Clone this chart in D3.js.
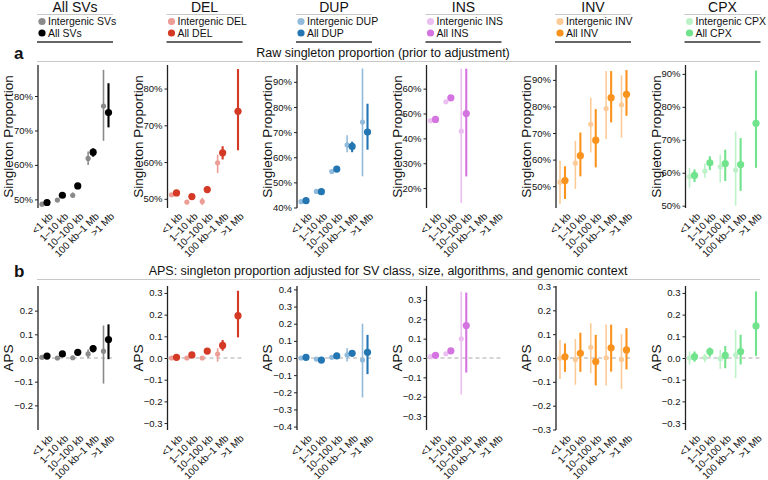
<!DOCTYPE html>
<html>
<head>
<meta charset="utf-8">
<script src="https://cdn.jsdelivr.net/npm/d3@7"></script>
<style>
  body { margin: 0; background: #fff; }
  svg text { font-family: "Liberation Sans", Arial, sans-serif; fill: #111; }
</style>
</head>
<body>
<div id="chart"></div>
<script>
const sizeBins = ["<1 kb", "1\u201310 kb", "10\u2013100 kb", "100 kb\u20131 Mb", ">1 Mb"];
const svClasses = ["All SVs", "DEL", "DUP", "INS", "INV", "CPX"];
const legendIntergenic = ["Intergenic SVs", "Intergenic DEL", "Intergenic DUP", "Intergenic INS", "Intergenic INV", "Intergenic CPX"];
const legendAll = ["All SVs", "All DEL", "All DUP", "All INS", "All INV", "All CPX"];
const colorsAll = ["#000000", "#D43925", "#2376B2", "#D474E0", "#FA931E", "#71E38C"];
const colorsIntergenic = ["#8a8a8a", "#EC9D96", "#92BBDB", "#EBC0F1", "#FCCB98", "#BDF2C8"];

// [estimate, lower, upper] per size bin, null = not shown
const rawIntergenic = [
  [[0.486, 0.483, 0.489], [0.498, 0.495, 0.501], [0.512, 0.504, 0.520], [0.619, 0.600, 0.639], [0.771, 0.670, 0.876]],
  [[0.511, 0.508, 0.514], [0.491, 0.486, 0.496], [0.493, 0.483, 0.503], [0.598, 0.570, 0.620], null],
  [[0.423, 0.420, 0.426], [0.464, 0.454, 0.474], [0.543, 0.535, 0.551], [0.649, 0.620, 0.687], [0.740, 0.524, 0.953]],
  [[0.471, 0.468, 0.474], [0.547, 0.540, 0.554], [0.429, 0.140, 0.680], null, null],
  [[0.515, 0.434, 0.596], [0.587, 0.490, 0.671], [0.733, 0.627, 0.833], [0.792, 0.677, 0.933], [0.806, 0.683, 0.917]],
  [[0.588, 0.555, 0.615], [0.605, 0.585, 0.628], [0.618, 0.570, 0.655], [0.608, 0.500, 0.725], null]
];
const rawAll = [
  [[0.491, 0.489, 0.493], [0.512, 0.509, 0.515], [0.539, 0.535, 0.543], [0.637, 0.624, 0.648], [0.752, 0.709, 0.837]],
  [[0.516, 0.513, 0.519], [0.506, 0.500, 0.512], [0.525, 0.516, 0.534], [0.625, 0.607, 0.643], [0.738, 0.632, 0.853]],
  [[0.427, 0.425, 0.429], [0.463, 0.457, 0.469], [0.553, 0.548, 0.558], [0.643, 0.620, 0.662], [0.700, 0.630, 0.813]],
  [[0.476, 0.473, 0.479], [0.563, 0.558, 0.568], [0.500, 0.247, 0.680], null, null],
  [[0.521, 0.452, 0.575], [0.615, 0.537, 0.702], [0.673, 0.571, 0.790], [0.833, 0.740, 0.933], [0.846, 0.765, 0.937]],
  [[0.592, 0.572, 0.610], [0.630, 0.608, 0.650], [0.628, 0.575, 0.670], [0.625, 0.545, 0.705], [0.750, 0.615, 0.910]]
];
const apsIntergenic = [
  [[0.003, 0.000, 0.006], [0.000, -0.003, 0.003], [0.001, -0.003, 0.005], [0.017, -0.001, 0.036], [0.029, -0.108, 0.137]],
  [[0.000, -0.003, 0.003], [0.000, -0.004, 0.004], [0.000, -0.005, 0.005], [0.018, -0.017, 0.045], null],
  [[0.000, -0.003, 0.003], [-0.006, -0.010, -0.002], [0.004, 0.000, 0.008], [0.018, -0.020, 0.057], [-0.012, -0.230, 0.200]],
  [[0.007, 0.004, 0.010], [0.022, 0.017, 0.027], [0.099, -0.189, 0.343], null, null],
  [[-0.001, -0.088, 0.075], [-0.006, -0.112, 0.080], [0.045, -0.064, 0.146], [0.001, -0.115, 0.140], [-0.006, -0.130, 0.100]],
  [[0.000, -0.030, 0.030], [0.002, -0.020, 0.020], [-0.003, -0.050, 0.037], [0.014, -0.093, 0.130], null]
];
const apsAll = [
  [[0.008, 0.005, 0.011], [0.017, 0.014, 0.020], [0.024, 0.020, 0.028], [0.040, 0.024, 0.054], [0.078, -0.005, 0.142]],
  [[0.003, 0.000, 0.006], [0.014, 0.010, 0.018], [0.032, 0.027, 0.037], [0.058, 0.034, 0.083], [0.195, 0.095, 0.310]],
  [[0.004, 0.001, 0.007], [-0.012, -0.017, -0.007], [0.012, 0.008, 0.016], [0.027, 0.008, 0.043], [0.033, -0.094, 0.135]],
  [[0.014, 0.010, 0.018], [0.037, 0.031, 0.043], [0.168, -0.075, 0.338], null, null],
  [[0.005, -0.058, 0.061], [0.020, -0.058, 0.106], [-0.015, -0.115, 0.097], [0.043, -0.057, 0.140], [0.034, -0.048, 0.125]],
  [[0.006, -0.017, 0.030], [0.030, 0.006, 0.048], [0.012, -0.047, 0.055], [0.030, -0.030, 0.107], [0.148, 0.010, 0.307]]
];

// axis limits and tick values
const rawLimits = [[0.475, 0.89], [0.475, 0.864], [0.398, 0.967], [0.12, 0.695], [0.418, 0.956], [0.493, 0.927]];
const rawTicks = [[0.5, 0.6, 0.7, 0.8], [0.5, 0.6, 0.7, 0.8], [0.4, 0.5, 0.6, 0.7, 0.8, 0.9],
                  [0.2, 0.3, 0.4, 0.5, 0.6], [0.5, 0.6, 0.7, 0.8, 0.9], [0.5, 0.6, 0.7, 0.8, 0.9]];
const apsLimits = [0.304, 0.332, 0.42, 0.372, 0.302, 0.332];
const apsTicks = [[-0.2, -0.1, 0, 0.1, 0.2], [-0.3, -0.2, -0.1, 0, 0.1, 0.2, 0.3], [-0.4, -0.3, -0.2, -0.1, 0, 0.1, 0.2, 0.3, 0.4],
                  [-0.3, -0.2, -0.1, 0, 0.1, 0.2, 0.3], [-0.3, -0.2, -0.1, 0, 0.1, 0.2, 0.3], [-0.3, -0.2, -0.1, 0, 0.1, 0.2, 0.3]];

const W = 768, H = 480;
const svg = d3.select("#chart").append("svg").attr("width", W).attr("height", H);

// horizontal position of each panel's y axis
const panelX = d3.scalePoint().domain(svClasses).range([38, 685.5]);

// header: class titles and legends
svClasses.forEach((cls, i) => {
    let x0 = panelX(cls);
    let g = svg.append("g").attr("transform", `translate(${x0},0)`);
    g.append("text").attr("x", 37).attr("y", 12).attr("text-anchor", "middle")
        .style("font-size", "14px").text(cls);
    g.append("line").attr("x1", -1).attr("x2", 75).attr("y1", 14.5).attr("y2", 14.5)
        .attr("stroke", "#c8c8c8").attr("stroke-width", 1);
    g.append("circle").attr("cx", 4).attr("cy", 21.5).attr("r", 3.6).attr("fill", colorsIntergenic[i]);
    g.append("text").attr("x", 10).attr("y", 25.3).style("font-size", "10.5px").text(legendIntergenic[i]);
    g.append("circle").attr("cx", 4).attr("cy", 33).attr("r", 3.6).attr("fill", colorsAll[i]);
    g.append("text").attr("x", 10).attr("y", 36.8).style("font-size", "10.5px").text(legendAll[i]);
    g.append("line").attr("x1", -1).attr("x2", 75).attr("y1", 42).attr("y2", 42)
        .attr("stroke", "#333").attr("stroke-width", 1.5);
});

// section labels and titles
function sectionHeader(letter, title, y, titleX) {
    svg.append("text").attr("x", 14).attr("y", y - 2).style("font-size", "17px")
        .style("font-weight", "bold").text(letter);
    svg.append("line").attr("x1", 37).attr("x2", 760).attr("y1", y + 0.5).attr("y2", y + 0.5)
        .attr("stroke", "#c8c8c8").attr("stroke-width", 1);
    svg.append("text").attr("x", titleX).attr("y", y - 4).attr("text-anchor", "middle")
        .style("font-size", "12.5px").text(title);
}
sectionHeader("a", "Raw singleton proportion (prior to adjustment)", 61, 383);
sectionHeader("b", "APS: singleton proportion adjusted for SV class, size, algorithms, and genomic context", 279, 388);

function drawPanel(i, top, bottom, yScale, ticks, fmt, ylabel, interg, all, zeroLine) {
    let x0 = panelX(svClasses[i]);
    let x = d3.scalePoint().domain(sizeBins).range([x0 + 6.5, x0 + 68]);
    let g = svg.append("g");

    // y axis
    let axis = g.append("g").attr("transform", `translate(${x0},0)`)
        .call(d3.axisLeft(yScale).tickValues(ticks).tickFormat(fmt).tickSize(3).tickPadding(2));
    axis.select(".domain").attr("d", `M0,${top}V${bottom}`).attr("stroke", "#222").attr("stroke-width", 1.3);
    axis.selectAll(".tick line").attr("stroke", "#222");
    axis.selectAll(".tick text").style("font-size", "9.5px").attr("fill", "#111")
        .style("font-family", "'Liberation Sans', Arial, sans-serif");

    // y label
    g.append("text").attr("transform", `translate(${x0 - 25},${(top + bottom) / 2}) rotate(-90)`)
        .attr("text-anchor", "middle").style("font-size", "13.5px").text(ylabel);

    if (zeroLine) {
        g.append("line").attr("x1", x0).attr("x2", x0 + 77)
            .attr("y1", yScale(0)).attr("y2", yScale(0))
            .attr("stroke", "#aaa").attr("stroke-width", 1).attr("stroke-dasharray", "4,3");
    }

    // x tick labels
    sizeBins.forEach(b => {
        g.append("text").attr("transform", `translate(${x(b) + 4},${bottom + 4}) rotate(-45)`)
            .attr("text-anchor", "end").attr("dy", "0.7em")
            .style("font-size", "10px").text(b);
    });

    // series
    [[interg, colorsIntergenic[i], -2.5, 1.6, 2.6], [all, colorsAll[i], 2.5, 2.1, 3.6]].forEach(([vals, col, dx, sw, r]) => {
        vals.forEach((v, k) => {
            if (!v) return;
            let cx = x(sizeBins[k]) + dx;
            g.append("line").attr("x1", cx).attr("x2", cx)
                .attr("y1", yScale(v[1])).attr("y2", yScale(v[2]))
                .attr("stroke", col).attr("stroke-width", sw);
            g.append("circle").attr("cx", cx).attr("cy", yScale(v[0])).attr("r", r).attr("fill", col);
        });
    });
}

const pct = d3.format(".0%");
const dec = v => (v < 0 ? "\u2212" : "") + d3.format(".1f")(Math.abs(v));

svClasses.forEach((cls, i) => {
    let yRaw = d3.scaleLinear().domain(rawLimits[i]).range([208, 65]);
    drawPanel(i, 65, 208, yRaw, rawTicks[i], pct, "Singleton Proportion", rawIntergenic[i], rawAll[i], false);

    let yAps = d3.scaleLinear().domain([-apsLimits[i], apsLimits[i]]).range([430, 286]);
    drawPanel(i, 286, 430, yAps, apsTicks[i], dec, "APS", apsIntergenic[i], apsAll[i], true);
});
</script>
</body>
</html>
